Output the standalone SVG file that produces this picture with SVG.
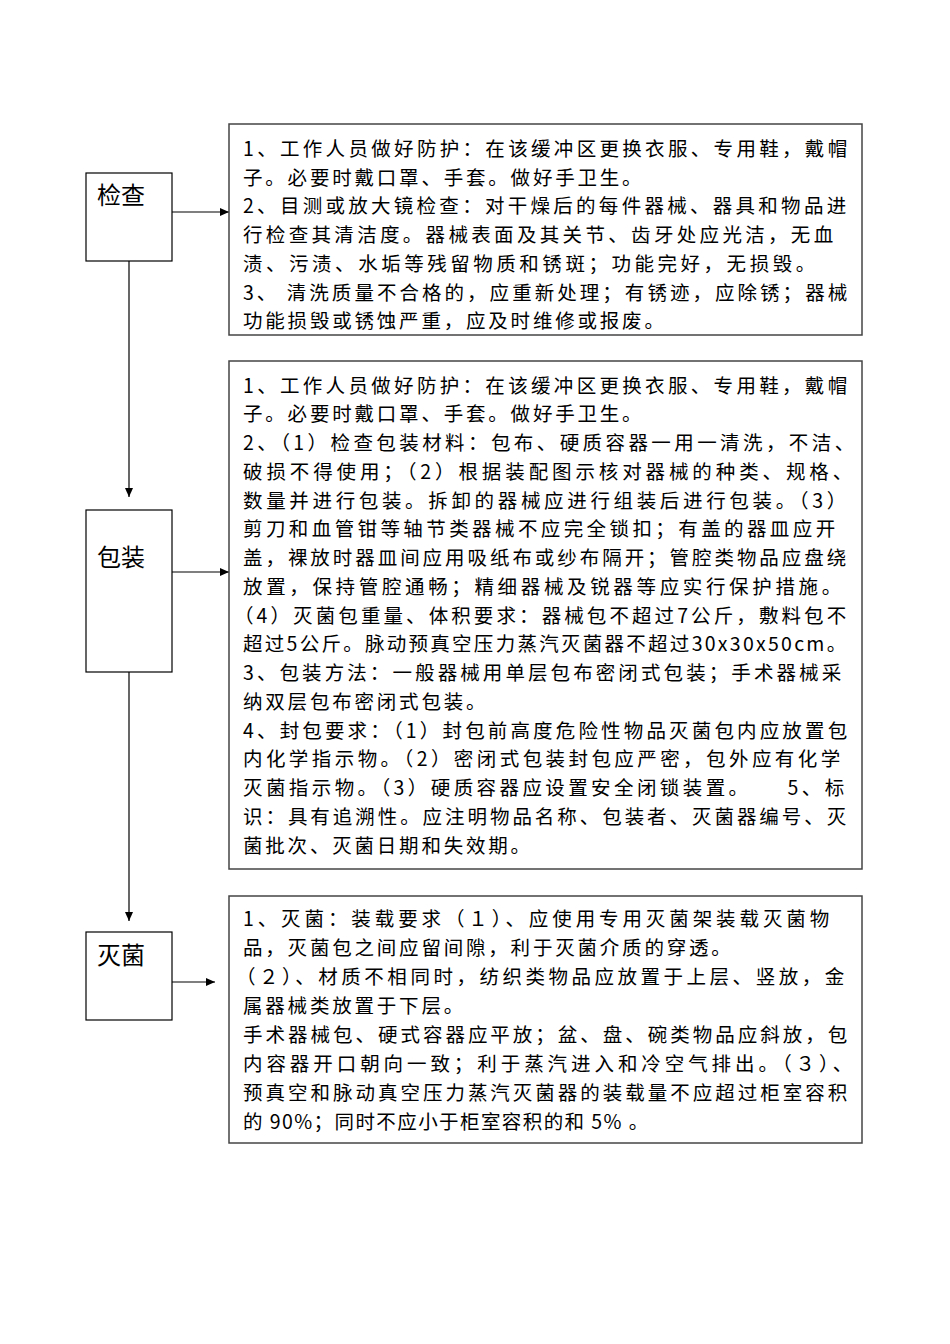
<svg xmlns="http://www.w3.org/2000/svg" width="950" height="1344" viewBox="0 0 950 1344">
<style>
.bg{fill:#fff}
.step{fill:#fff;stroke:#000;stroke-width:1.2}
.note{fill:#fff;stroke:#444;stroke-width:1.5}
.lbl{font-family:"Noto Sans CJK SC","Liberation Sans",sans-serif;font-size:24px;fill:#000}
.t{font-family:"Noto Sans CJK SC","Liberation Sans",sans-serif;font-size:19.5px;fill:#000;letter-spacing:2.8px}
.c{fill:none;stroke:#000;stroke-width:1.2}
</style>
<defs>
<marker id="ah" markerWidth="9" markerHeight="8" refX="9" refY="4" orient="auto" markerUnits="userSpaceOnUse">
<path d="M0,0 L9,4 L0,8 Z" fill="#000"/>
</marker>
</defs>
<rect class="bg" x="0" y="0" width="950" height="1344"/>

<g id="connectors">
<line class="c" x1="172" y1="212" x2="229" y2="212" marker-end="url(#ah)"/>
<line class="c" x1="129" y1="261" x2="129" y2="497" marker-end="url(#ah)"/>
<line class="c" x1="172" y1="572" x2="229" y2="572" marker-end="url(#ah)"/>
<line class="c" x1="129" y1="672" x2="129" y2="921" marker-end="url(#ah)"/>
<line class="c" x1="172" y1="982" x2="215" y2="982" marker-end="url(#ah)"/>
</g>

<g id="node-jiancha">
<rect class="step" x="86" y="173" width="86" height="88"/>
<text class="lbl" x="97" y="204">检查</text>
</g>

<g id="node-baozhuang">
<rect class="step" x="86" y="510" width="86" height="162"/>
<text class="lbl" x="97" y="566">包装</text>
</g>

<g id="node-miejun">
<rect class="step" x="86" y="932" width="86" height="88"/>
<text class="lbl" x="97" y="964">灭菌</text>
</g>

<g id="note-jiancha">
<rect class="note" x="229" y="124" width="633" height="211"/>
<text class="t" x="243" y="156" textLength="607">1、工作人员做好防护：在该缓冲区更换衣服、专用鞋，戴帽</text>
<text class="t" x="243" y="184.7">子。必要时戴口罩、手套。做好手卫生。</text>
<text class="t" x="243" y="213.4" textLength="606">2、目测或放大镜检查：对干燥后的每件器械、器具和物品进</text>
<text class="t" x="243" y="242.1" textLength="593">行检查其清洁度。器械表面及其关节、齿牙处应光洁，无血</text>
<text class="t" x="243" y="270.8" textLength="575">渍、污渍、水垢等残留物质和锈斑；功能完好，无损毁。</text>
<text class="t" x="243" y="299.5" textLength="607">3、 清洗质量不合格的，应重新处理；有锈迹，应除锈；器械</text>
<text class="t" x="243" y="328.2">功能损毁或锈蚀严重，应及时维修或报废。</text>
</g>

<g id="note-baozhuang">
<rect class="note" x="229" y="361" width="633" height="508"/>
<text class="t" x="243" y="392.5" textLength="607">1、工作人员做好防护：在该缓冲区更换衣服、专用鞋，戴帽</text>
<text class="t" x="243" y="421.25">子。必要时戴口罩、手套。做好手卫生。</text>
<text class="t" x="243" y="450" textLength="614">2、（1）检查包装材料：包布、硬质容器一用一清洗，不洁、</text>
<text class="t" x="243" y="478.75" textLength="612">破损不得使用；（2）根据装配图示核对器械的种类、规格、</text>
<text class="t" x="243" y="507.5" textLength="606">数量并进行包装。拆卸的器械应进行组装后进行包装。（3）</text>
<text class="t" x="243" y="536.25" textLength="595">剪刀和血管钳等轴节类器械不应完全锁扣；有盖的器皿应开</text>
<text class="t" x="243" y="565" textLength="606">盖，裸放时器皿间应用吸纸布或纱布隔开；管腔类物品应盘绕</text>
<text class="t" x="243" y="593.75" textLength="601">放置，保持管腔通畅；精细器械及锐器等应实行保护措施。</text>
<text class="t" x="234" y="622.5" textLength="615">（4）灭菌包重量、体积要求：器械包不超过7公斤，敷料包不</text>
<text class="t" x="243" y="651.25" textLength="606">超过5公斤。脉动预真空压力蒸汽灭菌器不超过30x30x50cm。</text>
<text class="t" x="243" y="680" textLength="601">3、包装方法：一般器械用单层包布密闭式包装；手术器械采</text>
<text class="t" x="243" y="708.75">纳双层包布密闭式包装。</text>
<text class="t" x="243" y="737.5" textLength="607">4、封包要求：（1）封包前高度危险性物品灭菌包内应放置包</text>
<text class="t" x="243" y="766.25" textLength="600">内化学指示物。（2）密闭式包装封包应严密，包外应有化学</text>
<text class="t" x="243" y="795" textLength="604">灭菌指示物。（3）硬质容器应设置安全闭锁装置。　　5、标</text>
<text class="t" x="243" y="823.75" textLength="606">识：具有追溯性。应注明物品名称、包装者、灭菌器编号、灭</text>
<text class="t" x="243" y="852.5">菌批次、灭菌日期和失效期。</text>
</g>

<g id="note-miejun">
<rect class="note" x="229" y="896" width="633" height="247"/>
<text class="t" x="243" y="925.5" textLength="589">1、灭菌：装载要求（１）、应使用专用灭菌架装载灭菌物</text>
<text class="t" x="243" y="954.5">品，灭菌包之间应留间隙，利于灭菌介质的穿透。</text>
<text class="t" x="236" y="983.5" textLength="611">（２）、材质不相同时，纺织类物品应放置于上层、竖放，金</text>
<text class="t" x="243" y="1012.5">属器械类放置于下层。</text>
<text class="t" x="243" y="1041.5" textLength="607">手术器械包、硬式容器应平放；盆、盘、碗类物品应斜放，包</text>
<text class="t" x="243" y="1070.5" textLength="612">内容器开口朝向一致；利于蒸汽进入和冷空气排出。（３）、</text>
<text class="t" x="243" y="1099.5" textLength="607">预真空和脉动真空压力蒸汽灭菌器的装载量不应超过柜室容积</text>
<text class="t" x="243" y="1128.5" textLength="408">的 90%；同时不应小于柜室容积的和 5% 。</text>
</g>
</svg>
